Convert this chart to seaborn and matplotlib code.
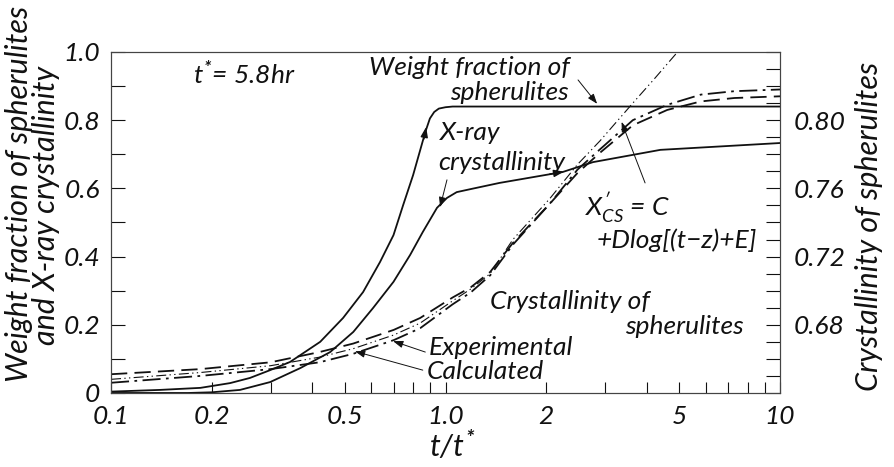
import numpy as np
import pandas as pd
import seaborn as sns
import matplotlib.pyplot as plt
from matplotlib.ticker import FixedLocator, FixedFormatter, NullFormatter

# ---- data (t/t* on a log axis) ----
# weight fraction of spherulites (left axis)
t_wf = [0.1, 0.14, 0.185, 0.227, 0.26, 0.299, 0.343, 0.422, 0.494, 0.567,
        0.637, 0.699, 0.747, 0.80, 0.87, 0.898, 0.925, 0.955, 1.0, 1.05, 10.0]
wf = [0.004, 0.009, 0.015, 0.029, 0.044, 0.067, 0.091, 0.150, 0.220, 0.296,
      0.384, 0.463, 0.551, 0.639, 0.765, 0.805, 0.824, 0.834, 0.838, 0.840, 0.840]

# X-ray crystallinity (left axis)
t_xr = [0.1, 0.17, 0.2, 0.243, 0.299, 0.368, 0.452, 0.53, 0.607, 0.699, 0.784,
        0.855, 0.943, 1.01, 1.08, 1.19, 1.45, 2.24, 2.76, 4.39, 10.0]
xr = [0.0, 0.0, 0.002, 0.009, 0.032, 0.073, 0.120, 0.179, 0.249, 0.326, 0.405,
      0.472, 0.543, 0.572, 0.589, 0.598, 0.616, 0.648, 0.677, 0.713, 0.733]

# crystallinity of spherulites (right axis)
t_cs = [0.1, 0.185, 0.3, 0.42, 0.53, 0.7, 0.84, 1.05, 1.19, 1.36, 1.59,
        2.05, 2.48, 2.9, 3.63, 4.6, 5.8, 7.3, 10.0]
cs_exp = [0.646, 0.650, 0.654, 0.658, 0.663, 0.671, 0.678, 0.692, 0.699, 0.709,
          0.727, 0.751, 0.771, 0.783, 0.800, 0.809, 0.815, 0.817, 0.818]
cs_calc = [0.651, 0.654, 0.658, 0.664, 0.669, 0.677, 0.684, 0.696, 0.702, 0.711,
           0.728, 0.751, 0.769, 0.781, 0.797, 0.806, 0.811, 0.813, 0.814]

# X'cs = C + D log[(t - z) + E]
t_fit = [0.1, 0.185, 0.3, 0.42, 0.53, 0.7, 0.84, 1.05, 1.19, 1.36, 1.59,
         2.05, 2.48, 2.9, 3.63, 4.2, 4.94]
cs_fit = [0.648, 0.652, 0.656, 0.661, 0.666, 0.674, 0.681, 0.694, 0.701, 0.710,
          0.730, 0.754, 0.774, 0.788, 0.810, 0.824, 0.840]

x_ticks = [0.1, 0.2, 0.5, 1.0, 2.0, 5.0, 10.0]
x_tick_labels = ["0.1", "0.2", "0.5", "1.0", "2", "5", "10"]
x_minor = [0.3, 0.4, 0.6, 0.7, 0.8, 0.9, 3, 4, 6, 7, 8, 9]
left_ticks = [0, 0.2, 0.4, 0.6, 0.8, 1.0]
left_tick_labels = ["0", "0.2", "0.4", "0.6", "0.8", "1.0"]
right_ticks = [0.68, 0.72, 0.76, 0.80]
right_tick_labels = ["0.68", "0.72", "0.76", "0.80"]

# ---- style ----
sns.set_theme(style="white")
plt.rcParams['font.family'] = ['Lato', 'DejaVu Sans']
plt.rcParams['font.style'] = 'italic'
plt.rcParams['font.weight'] = 'normal'
plt.rcParams['mathtext.fontset'] = 'custom'
plt.rcParams['mathtext.it'] = 'Lato:italic'
plt.rcParams['mathtext.rm'] = 'Lato:italic'
plt.rcParams['mathtext.bf'] = 'Lato:italic:bold'

FS = 19
FS_AX = 22
INK = "#111111"

fig = plt.figure(figsize=(8.94, 4.67), dpi=100)
ax = fig.add_axes([0.1242, 0.1585, 0.8725 - 0.1242, 0.8887 - 0.1585])
ax2 = ax.twinx()

lw = 1.3
sns.lineplot(x=t_wf, y=wf, ax=ax, color=INK, lw=lw, sort=False, errorbar=None)
sns.lineplot(x=t_xr, y=xr, ax=ax, color=INK, lw=lw, sort=False, errorbar=None)
sns.lineplot(x=t_cs, y=cs_calc, ax=ax2, color=INK, lw=lw, sort=False,
             errorbar=None, linestyle=(0, (9, 4)))
sns.lineplot(x=t_cs, y=cs_exp, ax=ax2, color=INK, lw=lw, sort=False,
             errorbar=None, linestyle=(0, (10, 3, 1.5, 3)))
sns.lineplot(x=t_fit, y=cs_fit, ax=ax2, color=INK, lw=0.8, sort=False,
             errorbar=None, linestyle=(0, (9, 3, 1.2, 3, 1.2, 3)))

for a in (ax, ax2):
    a.set_xscale('log')
    a.set_xlim(0.1, 10)
ax.set_ylim(0, 1.0)
ax2.set_ylim(0.64, 0.84)

# x axis
ax.xaxis.set_major_locator(FixedLocator(x_ticks))
ax.xaxis.set_major_formatter(FixedFormatter(x_tick_labels))
ax.xaxis.set_minor_locator(FixedLocator(x_minor))
ax.xaxis.set_minor_formatter(NullFormatter())
# left axis
ax.yaxis.set_major_locator(FixedLocator(left_ticks))
ax.yaxis.set_major_formatter(FixedFormatter(left_tick_labels))
ax.yaxis.set_minor_locator(FixedLocator(np.arange(0.1, 1.0, 0.2)))
# right axis
ax2.yaxis.set_major_locator(FixedLocator(right_ticks))
ax2.yaxis.set_major_formatter(FixedFormatter(right_tick_labels))
ax2.yaxis.set_minor_locator(FixedLocator(
    [v for v in np.round(np.arange(0.64, 0.8401, 0.01), 2) if v not in right_ticks]))

ax.tick_params(axis='x', which='both', direction='in', length=8, width=0.8,
               colors=INK, labelsize=FS, pad=9, top=False, bottom=True)
ax.tick_params(axis='y', which='both', direction='in', length=10, width=0.8,
               colors=INK, labelsize=FS, pad=8, left=True, right=False)
ax2.tick_params(axis='y', which='both', direction='in', length=10, width=0.8,
                colors=INK, labelsize=FS, pad=10, left=False, right=True)
ax2.tick_params(axis='x', which='both', bottom=False, top=False,
                labelbottom=False)
# keep the "0" label just above the "0.1" label below it
ax.get_yticklabels()[0].set_va('center_baseline')

for a in (ax, ax2):
    for s in a.spines.values():
        s.set_visible(True)
        s.set_linewidth(0.8)
        s.set_color("#444444")
    a.set_xlabel("")
    a.set_ylabel("")
    a.grid(False)
ax2.patch.set_visible(False)

# ---- annotations ----
def label(x, y, s, **kw):
    ax.text(x, y, s, fontsize=FS, color=INK, va='center', **kw)

def arrow(x0, y0, x1, y1, lw=0.7):
    ax.annotate("", xy=(x1, y1), xytext=(x0, y0),
                arrowprops=dict(arrowstyle="-|>,head_length=0.5,head_width=0.18",
                                color=INK, lw=lw, shrinkA=0, shrinkB=0))

label(0.176, 0.933, r"$t^{\mathbf{*}}$= 5.8hr")
label(2.36, 0.955, "Weight fraction of", ha='right')
label(2.33, 0.880, "spherulites", ha='right')
arrow(2.49, 0.918, 2.84, 0.848)
label(0.963, 0.765, "X-ray")
label(0.95, 0.677, "crystallinity")
arrow(1.01, 0.625, 0.963, 0.545)
label(2.62, 0.545, r"$X^{\prime}_{CS}$ = C")
label(2.83, 0.449, "+Dlog[(t−z)+E]")
arrow(3.95, 0.616, 3.36, 0.795)
label(1.36, 0.267, "Crystallinity of")
label(3.45, 0.194, "spherulites")
label(0.888, 0.132, "Experimental")
label(0.880, 0.062, "Calculated")
arrow(0.87, 0.120, 0.697, 0.152)
arrow(0.855, 0.067, 0.536, 0.122)

# small direction heads drawn on the curves
arrow(0.862, 0.745, 0.875, 0.780, lw=1.0)
arrow(2.05, 0.642, 2.26, 0.649, lw=1.0)

# axis titles
fig.text(0.5056, 0.047, r"$t/t^{\mathbf{*}}$", fontsize=FS_AX, color=INK,
         ha='center', va='center')
fig.text(0.021, 0.585, "Weight fraction of spherulites", rotation=90,
         fontsize=FS_AX, color=INK, ha='center', va='center')
fig.text(0.051, 0.560, "and X-ray crystallinity", rotation=90,
         fontsize=FS_AX, color=INK, ha='center', va='center')
fig.text(0.972, 0.515, "Crystallinity of spherulites", rotation=90,
         fontsize=FS_AX, color=INK, ha='center', va='center')

fig.savefig("out.png", dpi=100, facecolor="white")
